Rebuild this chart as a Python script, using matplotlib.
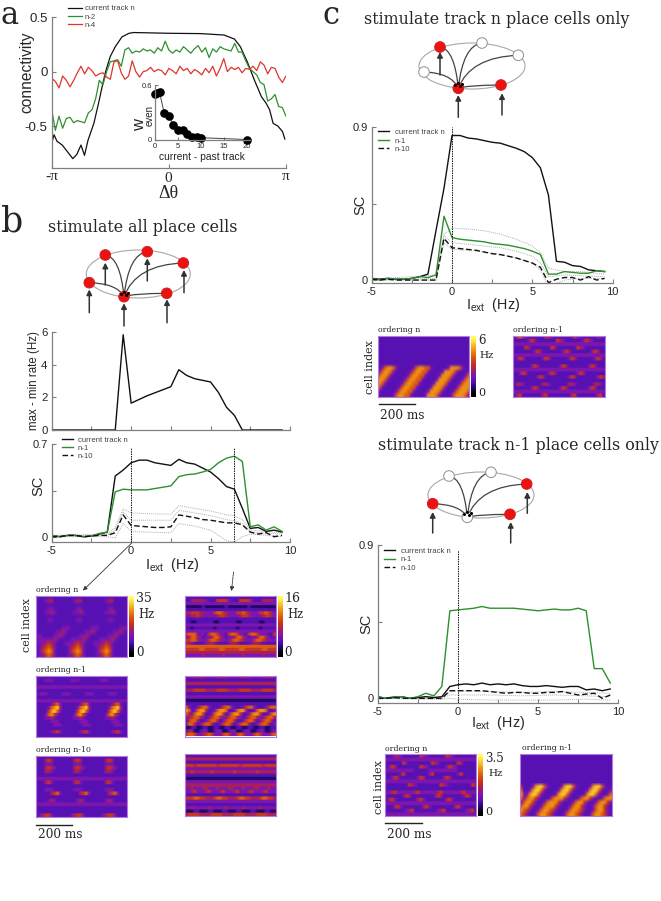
import numpy as np
import matplotlib
matplotlib.use('Agg')
import matplotlib.pyplot as plt
from matplotlib.colors import LinearSegmentedColormap
from matplotlib.patches import Ellipse, Circle, PathPatch
from matplotlib.path import Path

W, H = 661, 901
plt.rcParams['font.family'] = ['Liberation Sans', 'DejaVu Sans']
plt.rcParams['mathtext.fontset'] = 'custom'
plt.rcParams['mathtext.rm'] = 'Liberation Sans'
plt.rcParams['mathtext.it'] = 'Liberation Sans'

SERIF = 'DejaVu Serif'
GRAY = '#7f7f7f'
INK = '#262626'
GREEN = '#2f8f2f'
RED = '#e0352b'
DOT = '#b0b0b0'

# ---- panel a: values, theta in units of pi
a_black_x = [-1.0, -.98, -.955, -.91, -.87, -.82, -.785, -.75, -.72, -.69, -.64, -.6, -.57, -.54, -.5, -.457, -.4,
             -.34, -.3, 0, .27, .47, .56, .61, .67, .73, .79, .83, .86, .89, .93, .97, .99]
a_black = [-.66, -.58, -.64, -.675, -.73, -.80, -.76, -.675, -.77, -.63, -.475, -.29, -.14, 0, .14, .23, .32,
           .353, .36, .353, .35, .337, .30, .23, .09, -.077, -.23, -.29, -.35, -.475, -.5, -.55, -.62]
a_green = [-.35, -.54, -.41, -.52, -.43, -.42, -.47, -.45, -.46, -.47, -.38, -.35, -.25, -.08, -.12, 0, .09, .10,
           .11, .05, .20, .22, .17, .19, .18, .21, .19, .20, .17, .22, .19, .28, .20, .17, .20, .18, .23, .20, .17,
           .21, .24, .18, .22, .13, .21, .18, .23, .21, .20, .19, .26, .18, .18, .10, .03, 0, -.03, -.10, -.12,
           -.27, -.25, -.21, -.32, -.33, -.41]
a_red = [-.06, -.09, -.15, -.04, -.08, -.14, -.08, -.01, .05, -.02, .04, .01, -.04, -.02, -.01, -.05, -.07, .09,
         .10, -.01, -.07, -.04, .10, 0, -.05, 0, .01, .04, 0, .02, .01, -.03, .03, .01, -.02, .05, .01, .03, -.02,
         .02, .0, -.03, .03, -.01, .05, -.04, .03, .12, 0, .04, .02, .04, -.01, .03, .02, .05, .01, .09, .06, -.02,
         .04, .03, -.05, -.10, -.04]
inset_x = [0, .5, 1, 2, 3, 4, 5, 6, 7, 8, 9, 10, 20]
inset_y = [.50, .51, .52, .29, .26, .165, .11, .11, .07, .035, .035, .025, .005]

# ---- panel b
i_ext = [-5 + .5 * i for i in range(30)]
b_range_x = [-5, -1, -.5, 0, 1, 2.5, 3, 3.5, 4, 5, 5.5, 6, 6.5, 7, 9.5]
b_range = [0, 0, 5.85, 1.65, 2.1, 2.66, 3.7, 3.35, 3.15, 2.95, 2.3, 1.4, .9, 0, 0]
b_n = [.01, 0, .01, .01, 0, .005, .02, .035, .46, .505, .56, .58, .58, .56, .55, .54, .586, .56, .55, .52, .49, .44,
       .38, .36, .215, .063, .07, .04, .05, .035]
b_n1 = [.01, 0, .01, .01, 0, .005, .025, .035, .34, .36, .355, .355, .355, .365, .375, .385, .455, .47, .475, .49,
        .51, .56, .595, .61, .57, .075, .09, .05, .075, .04]
b_n10 = [0, 0, .01, .01, 0, .005, .01, .01, .03, .165, .085, .08, .075, .07, .07, .075, .165, .155, .145, .13, .125,
         .115, .105, .105, .09, .035, .02, .03, 0, .01]
b_dot_x = [-5, -1.5, -1, -.5, 0, 1, 2.5, 3, 4, 5, 6, 6.5, 7, 7.5, 9.5]
b_dot_hi = [.01, .02, .07, .21, .18, .175, .17, .235, .215, .195, .165, .16, .13, .05, .03]
b_dot_mid = [.005, .01, .05, .19, .125, .125, .125, .2, .18, .16, .13, .12, .10, .035, .02]
b_dot_lo = [0, 0, -.01, .10, .04, .035, .03, .10, .08, .05, -.03, -.04, 0, .02, .0]

# ---- panel c, stimulate track n
c1_n = [.01, .005, .01, .005, .005, .01, .02, .035, .29, .54, .85, .85, .835, .83, .82, .81, .805, .79, .775, .755,
        .72, .66, .50, .11, .105, .085, .08, .06, .055, .05]
c1_n1 = [.01, 0, .01, .005, .005, .01, .02, .015, .03, .375, .25, .24, .235, .23, .225, .215, .21, .205, .195, .185,
         .17, .15, .035, .035, .05, .045, .04, .04, .055, .05]
c1_n10 = [.005, 0, .005, 0, 0, 0, 0, 0, 0, .245, .19, .185, .18, .175, .165, .155, .15, .14, .13, .115, .10, .075,
          -.015, .005, .015, .015, 0, .02, 0, .01]
c1_dot_x = [-5, -1, -.5, 0, 1, 2, 3, 4, 5, 5.5, 6, 7, 8, 9.5]
c1_dot_hi = [.005, .03, .27, .305, .30, .29, .27, .24, .20, .16, .07, .05, .05, .035]
c1_dot_mid = [0, .01, .26, .22, .21, .20, .19, .17, .14, .10, .02, .03, .025, .02]
c1_dot_lo = [0, 0, .22, .18, .175, .165, .15, .13, .10, .06, -.04, 0, .01, .01]

# ---- panel c, stimulate track n-1
c2_n = [.01, 0, .005, .01, 0, .005, .01, .005, .01, .07, .08, .085, .08, .09, .08, .085, .08, .085, .075, .07, .07,
        .075, .07, .065, .07, .07, .05, .055, .045, .055]
c2_n1 = [.01, 0, .01, .01, 0, .01, .03, .015, .07, .515, .52, .525, .53, .54, .53, .53, .53, .53, .525, .52, .515,
         .52, .525, .52, .52, .53, .515, .175, .175, .09]
c2_n10 = [0, 0, .005, 0, 0, 0, 0, 0, 0, .045, .045, .045, .045, .045, .04, .035, .03, .035, .035, .03, .03, .035,
          .035, .04, .03, .02, .025, .03, 0, .02]
c2_dot_x = [-5, -1, -.5, 0, 2, 4, 6, 8, 9.5]
c2_dot_hi = [0, 0, .04, .045, .04, .035, .04, .035, .03]
c2_dot_mid = [0, 0, .02, .02, .02, .015, .02, .015, .01]
c2_dot_lo = [0, -.005, .0, -.005, -.01, -.01, -.01, -.005, -.01]

# ---- heatmaps, one digit per cell, 0 = low rate, 9 = high rate, first row on top
heat_b_n = ["22222222222222222222222222222222",
            "22234422222223442222222234422222",
            "22222222222222222222222222222222",
            "22223322222222332222222223322222",
            "22233432222223343222222233432222",
            "22222222222222222222222222222222",
            "22223322222222332222222223322222",
            "22222222222222222222222222222222",
            "22222222233322222223332222222333",
            "22222223343222222334322222233432",
            "33222233432222233432222223343222",
            "33333343222233334322223333432222",
            "23345432223334543222333454322222",
            "23456532222345653222234565322222",
            "23567632222356763222235676322222",
            "23356532222335653222233565322222"]
heat_b_n1 = ["22222222222222222222222222222222",
             "22233322222233322222223332222222",
             "22222222222222222222222222222222",
             "33333333333333333333333333333333",
             "22222222222222222222222222222222",
             "23332222233322222333222223332222",
             "22222222222222222222222222222222",
             "33333333333333333333333333333333",
             "22222356322222235632222222356322",
             "22223678422222367842222223678422",
             "22225786322222578632222225786322",
             "22236753222223675322222236753222",
             "22233432222223343222222233432222",
             "22222333222222233322222222333222",
             "22222233322222223332222222233322",
             "22222222222222222222222222222222",
             "22222345322222234532222222345322",
             "22222222222222222222222222222222"]
heat_b_n10 = ["22222222222222222222222222222222",
              "22245422222224542222222245422222",
              "22233322222223332222222233322222",
              "22245432222224543222222245432222",
              "22244322222224432222222244322222",
              "22222222222222222222222222222222",
              "33333333333333333333333333333333",
              "22245322222224532222222245322222",
              "22222222222222222222222222222222",
              "22233322222223332222222233322222",
              "22222456322222245632222224563222",
              "22222222222222222222222222222222",
              "22223432222222343222222234322222",
              "33333333333333333333333333333333",
              "22222222222222222222222222222222",
              "22222222222222222222222222222222",
              "23455322222234553222222345532222"]
heat_r_n = ["22222222222222222222222222222222",
            "22444443222555532225555322244443",
            "33333333333333333333333333333333",
            "11111121111111211111112111111111",
            "22222222222222222222222222222222",
            "44555443335665433355654333556543",
            "33445433333455433334554333345543",
            "22222222222222222222222222222222",
            "22112222221122222211222222112222",
            "33333333333333333333333333333333",
            "22122222221222222212222222122222",
            "33333333333333333333333333333333",
            "56663332566533256653325665333225",
            "34664323346643233466432334664323",
            "55664333566543335665433356654333",
            "44322223443222234432222344322222",
            "66666666666666666666666666666666",
            "55555665555566555556655555566555",
            "44444444444444444444444444444444",
            "33333343333334333333433333343333"]
heat_r_n1 = ["33344443333444433334444333344443",
             "22222222222222222222222222222222",
             "44444444444444444444444444444444",
             "22222222222222222222222222222222",
             "44455554444555544445555444455554",
             "22222222222222222222222222222222",
             "33333333333333333333333333333333",
             "11111111111111111111111111111111",
             "22222222222222222222222222222222",
             "63223566322235663222356632223566",
             "76236774223677622367742236776223",
             "64367752236775236775223677522367",
             "34566432356643356643235664335664",
             "25664223566423566422356642356642",
             "36642356642235664235664223566423",
             "11221122112211221122112211221122",
             "24411233112331123311233112331123",
             "56653345653335653356533356533356"]
heat_r_n10 = ["22222222222222222222222222222222",
              "44444444444444444444444444444444",
              "22222222222222222222222222222222",
              "55545555555455555554555555545555",
              "33333333333333333333333333333333",
              "44544444454444444544444445444444",
              "22222222222222222222222222222222",
              "11111111111111111111111111111111",
              "33333333333333333333333333333333",
              "44444444444444444444444444444444",
              "33433344333433344333433344333433",
              "33453334533345333453334533345333",
              "22222222222222222222222222222222",
              "55566554445665544456655444566554",
              "33333333333333333333333333333333",
              "22222222222222222222222222222222",
              "33433333433333433333433333433333",
              "11122111221112211122111221112211",
              "45555444455554444555544445555444"]
heat_c_n = ["22222222222222222222222222222222"] * 8 + [
            "23677632222236776632222237776322",
            "36776322222367766322223777632223",
            "67763222223677663222237776322236",
            "77632222236776632222377763222367",
            "76322222367766322223777632223677",
            "63222223677663222237776322236777",
            "32222236776632222377763222367776",
            "22222367766322223777632223677763"]
heat_c_n1 = ["25643222222543222222253322222432",
             "22222354222222254322222235432222",
             "33333333333333333333333333333333",
             "22225422222225422222225432222222",
             "22222223542222222354222222235422",
             "33333333333333333333333333333333",
             "23542222223542222223542222223542",
             "22222222222222222222222222222222",
             "22222235422222223542222222354222",
             "33333333333333333333333333333333",
             "22354222222235422222223542222222",
             "22222222354222222223542222222354",
             "22222222222222222222222222222222",
             "24432222224432222224432222224432",
             "22222235422222223542222222354222",
             "33333333333333333333333333333333",
             "24522222224522222222452222222452"]
heat_c2_n = ["22244322222253322222254322222222",
             "33333333333333333333333333333333",
             "22222253222222225432222225422222",
             "23542222222254322222235432222222",
             "33333333332222233333333332222222",
             "22222352222222235222222223522222",
             "22354222222354222222354222222222",
             "33333333333333333333333333333333",
             "22222222543222222225432222222254",
             "22222222222222222222222222222222",
             "33453333334533333345333333453333",
             "22222235422222222354222222235422",
             "24532222222453222222245322222222",
             "33333333333333333333333333333333",
             "22245322222224532222222245322222",
             "22222223452222222234522222223452",
             "33333333333333333333333333333333"]
heat_c2_r = ["22222222222222222222222222222222"] * 8 + [
             "42223788632222378863222237886322",
             "62237886322223788632222378863223",
             "73378863222237886322223788632236",
             "63677532223677753222367753223677",
             "36775322367775322236775322367753",
             "67753223677753222367753223677532",
             "76532236776532223677653223677532",
             "65322367765322236776532236776532"]

cb_levels = [0, 1, 2, 3, 4, 5, 6, 7, 8, 9]

cmap = LinearSegmentedColormap.from_list('pm3d', [
    (0, '#000000'), (.11, '#22086a'), (.22, '#5812b4'), (.33, '#7d16b0'), (.44, '#a8205c'),
    (.55, '#c8341c'), (.66, '#dc5a10'), (.77, '#ea8a14'), (.88, '#f6c22c'), (1, '#ffff50')])

fig = plt.figure(figsize=(W / 100, H / 100), dpi=100)


def px_axes(left, top, right, bottom):
    return fig.add_axes([left / W, 1 - bottom / H, (right - left) / W, (bottom - top) / H], facecolor='none')


ov = px_axes(0, 0, W, H)
ov.set_xlim(0, W)
ov.set_ylim(H, 0)
ov.axis('off')
ov.set_zorder(5)


def label(x, y, s, size=8, family=None, ha='center', va='center', rot=0, color=INK):
    kw = {'family': family} if family else {}
    ov.text(x, y, s, fontsize=size, ha=ha, va=va, rotation=rot, color=color, **kw)


def style(ax, xticks=None, xlabels=None, yticks=None, ylabels=None, size=8):
    for s in ['top', 'right']:
        ax.spines[s].set_visible(False)
    for s in ['left', 'bottom']:
        ax.spines[s].set_color(GRAY)
        ax.spines[s].set_linewidth(.9)
    ax.tick_params(direction='in', length=3, width=.8, color=GRAY, labelsize=size, labelcolor=INK, pad=3)
    ax.set_xticks(xticks)
    ax.set_xticklabels(xlabels)
    ax.set_yticks(yticks)
    ax.set_yticklabels(ylabels)


def sc_legend(ax, lx0, lx1, tx, y0, pitch, size=5.6):
    fpx = size * 100 / 72
    ax.legend(loc='upper left', bbox_to_anchor=(lx0, y0 - fpx * .55), bbox_transform=ov.transData, frameon=False,
              borderpad=0, borderaxespad=0, fontsize=size, handlelength=(lx1 - lx0) / fpx,
              handletextpad=(tx - lx1) / fpx, labelspacing=(pitch - fpx) / fpx, labelcolor='#444444')


def sc_axes(rect, ylim, ytop, xs, n, n1, n10, dot_x, dots, vlines, legend):
    ax = px_axes(*rect)
    for d in dots:
        ax.plot(dot_x, d, color=DOT, lw=.7, ls=(0, (1, 1)))
    ax.plot(xs, n, color='#111111', lw=1, label='current track n')
    ax.plot(xs, n1, color=GREEN, lw=1, label='n-1')
    ax.plot(xs, n10, color='#111111', lw=1, ls=(0, (4, 2)), label='n-10')
    for vx, vtop in vlines:
        ax.plot([vx, vx], [ylim[0], vtop], color='#111111', lw=.7, ls=(0, (1.5, 1)))
    ax.set_xlim(-5, 10)
    ax.set_ylim(*ylim)
    style(ax, [-5, -2.5, 0, 2.5, 5, 7.5, 10], ['-5', '', '0', '', '5', '', '10'],
          [0, ytop / 2, ytop], ['0', '', f'{ytop:g}'])
    sc_legend(ax, *legend)
    return ax


def heat(rect, rows, sharp=3):
    ax = px_axes(*rect)
    width = max(len(r) for r in rows)
    grid = np.array([[int(c) for c in r.ljust(width, '2')] for r in rows]) / 9
    # repeated rows keep the stripes thin under the smoothing
    ax.imshow(np.repeat(grid, sharp, axis=0), cmap=cmap, vmin=0, vmax=1, aspect='auto', interpolation='bilinear')
    ax.set_xticks([])
    ax.set_yticks([])
    for s in ax.spines.values():
        s.set_color('#b47ae0')
        s.set_linewidth(.8)
    return ax


def colorbar(rect):
    ax = px_axes(*rect)
    ax.imshow(np.array(cb_levels)[::-1, None] / 9, cmap=cmap, vmin=0, vmax=1, aspect='auto', interpolation='bilinear')
    ax.axis('off')


def network(center, size, nodes, fired, hub, arrows):
    ov.add_patch(Ellipse(center, size[0], size[1], fc='none', ec='#a8a8a8', lw=.8))
    hx, hy = nodes[hub]
    for i, (x, y) in enumerate(nodes):
        if i != hub:
            path = Path([(hx, hy), (hx + .2 * (x - hx), y + (hy - y) * .05), (x, y)],
                        [Path.MOVETO, Path.CURVE3, Path.CURVE3])
            ov.add_patch(PathPatch(path, fc='none', ec='#444444', lw=.9, zorder=2))
    for i, (x, y) in enumerate(nodes):
        on = i in fired
        ov.add_patch(Circle((x, y), 5.3, fc='#ee1111' if on else 'white', ec='#d02020' if on else '#909090',
                            lw=.7, zorder=3))
    ov.plot([hx - 3, hx, hx + 2, hx + 4], [hy - 3, hy - 5, hy - 2, hy - 4], 'o', ms=1.2, color='black', zorder=4)
    for x, y0, y1 in arrows:
        ov.annotate('', xy=(x, y1), xytext=(x, y0), zorder=4,
                    arrowprops=dict(arrowstyle='-|>,head_width=.18,head_length=.35', lw=1.1, color='#333333',
                                    shrinkA=0, shrinkB=0, mutation_scale=9))


# panel letters and titles
label(1, 24, 'a', 22, SERIF, ha='left', va='baseline')
label(1, 231, 'b', 25, SERIF, ha='left', va='baseline')
label(323, 24, 'c', 22, SERIF, ha='left', va='baseline')
label(143, 227, 'stimulate all place cells', 11.4, SERIF)
label(497, 19, 'stimulate track n place cells only', 11.4, SERIF)
label(518, 445, 'stimulate track n-1 place cells only', 11.4, SERIF)

# panel a
ax = px_axes(51.7, 17.3, 286, 168)
theta = np.linspace(-np.pi, np.pi, len(a_green))
ax.plot(np.array(a_black_x) * np.pi, a_black, color='#111111', lw=.9, label='current track n')
ax.plot(theta, a_green, color=GREEN, lw=.9, label='n-2')
ax.plot(theta, a_red, color=RED, lw=.9, label='n-4')
ax.set_xlim(-np.pi, np.pi)
ax.set_ylim(-.886, .5)
style(ax, [-np.pi, 0, np.pi], ['', '', ''], [-.5, 0, .5], ['-0.5', '0', '0.5'], size=9.5)
sc_legend(ax, 68, 82, 85, 9.3, 8.7)
label(51.5, 177, '-π', 11, 'Liberation Serif')
label(168.5, 178, '0', 11, 'Liberation Serif')
label(286, 177, 'π', 11, 'Liberation Serif')
label(168.5, 193, 'Δθ', 13, 'Liberation Serif')
label(27, 72, 'connectivity', 11.2, rot=90)

ins = px_axes(155, 85, 250, 140)
ins.plot(inset_x, inset_y, '-o', color='#444444', lw=.7, ms=5.2, mfc='black', mec='black', clip_on=False)
ins.set_xlim(0, 20.6)
ins.set_ylim(0, .6)
style(ins, [0, 5, 10, 15, 20], ['0', '5', '10', '15', '20'], [0, .6], ['0', '0.6'], size=5.5)
ins.tick_params(length=2, pad=2)
label(201.5, 156.5, 'current - past track', 7.4)
label(139.5, 125, 'w', 12, rot=90)
label(150, 115, 'even', 7, rot=90)

# panel b
network((138.3, 274), (104, 48), [(89.3, 282.7), (105.3, 255), (147.3, 251.7), (183.3, 263), (166.7, 293.3), (124, 296.7)],
        [0, 1, 2, 3, 4, 5], 5,
        [(89.3, 312.7, 289.5), (105.3, 285, 262.7), (147.3, 281, 258.3), (184, 292.7, 270),
         (167, 322.7, 299.3), (124, 326, 303.3)])
ax = px_axes(51.7, 332.3, 290, 430)
ax.plot(b_range_x, b_range, color='#111111', lw=1)
ax.set_xlim(-5, 10)
ax.set_ylim(0, 6)
style(ax, [-5, -2.5, 0, 2.5, 5, 7.5, 10], [], [0, 2, 4, 6], ['0', '2', '4', '6'], size=8.2)
ax.set_xticks([-5, -2.5, 0, 2.5, 5, 7.5, 10], [''] * 7)
label(34.5, 381, 'max - min rate (Hz)', 8.3, rot=90)

sc_axes((51.7, 444.3, 290, 542), (-.04, .7), .7, i_ext, b_n, b_n1, b_n10, b_dot_x, [b_dot_hi, b_dot_mid, b_dot_lo],
        [(0, .67), (6.5, .675)], (61.7, 72.7, 77.7, 440.7, 8.5))
label(38, 486, 'SC', 10.5, rot=90)
label(172, 565, r'$\mathregular{I_{ext}}$  (Hz)', 10.4)
ov.annotate('', xy=(83, 590.5), xytext=(131.7, 543), arrowprops=dict(arrowstyle='-|>,head_width=.15,head_length=.3',
            lw=.6, color='#333333', shrinkA=0, shrinkB=0, mutation_scale=8))
ov.annotate('', xy=(231.5, 591), xytext=(233.5, 572), arrowprops=dict(arrowstyle='-|>,head_width=.15,head_length=.3',
            lw=.6, ls=(0, (2, 1)), color='#333333', shrinkA=0, shrinkB=0, mutation_scale=8))

heat((36, 595.7, 127, 656.7), heat_b_n, 1)
heat((36, 675.7, 127, 737), heat_b_n1)
heat((36, 755.7, 127, 817), heat_b_n10)
heat((184.7, 595.7, 275.7, 656.7), heat_r_n)
heat((184.7, 675.7, 275.7, 736.5), heat_r_n1)
heat((184.7, 754, 275.7, 815.7), heat_r_n10)
colorbar((129.3, 595.7, 134.3, 656.7))
colorbar((277.7, 595.7, 282.7, 656.7))
label(136, 599, '35', 9, SERIF, ha='left')
label(146.5, 615, 'Hz', 8.3, SERIF)
label(136, 653, '0', 8.5, SERIF, ha='left')
label(284.5, 599, '16', 9, SERIF, ha='left')
label(295, 615, 'Hz', 8.3, SERIF)
label(284.5, 653, '0', 8.5, SERIF, ha='left')
label(36, 590, 'ordering n', 5.6, SERIF, ha='left')
label(36, 669.5, 'ordering n-1', 5.6, SERIF, ha='left')
label(36, 749.5, 'ordering n-10', 5.6, SERIF, ha='left')
label(27.3, 625, 'cell index', 8, SERIF, rot=90)
ov.plot([36, 72.3], [825, 825], color='#222222', lw=1)
label(60, 835, '200 ms', 8.7, SERIF)

# panel c, first block
network((472, 66), (106, 46), [(440, 47), (482, 43), (518.3, 55.3), (424, 72), (501, 85), (458.3, 88.3)],
        [0, 4, 5], 5, [(440, 75, 52), (458.3, 117.3, 95), (502, 115, 93.3)])
sc_axes((371.7, 127, 612.7, 282.7), (-.0155, .9), .9, i_ext, c1_n, c1_n1, c1_n10, c1_dot_x,
        [c1_dot_hi, c1_dot_mid, c1_dot_lo], [(0, .9)], (378, 389, 395, 133, 8.7))
label(360, 205, 'SC', 10.5, rot=90)
label(493, 305, r'$\mathregular{I_{ext}}$  (Hz)', 10.4)
heat((377.7, 336, 469, 397.3), heat_c_n, 1)
heat((513.3, 336, 605, 397.3), heat_c_n1)
colorbar((470.7, 336, 475.7, 397.3))
label(478, 340, '6', 8.5, SERIF, ha='left')
label(487, 355, 'Hz', 7.5, SERIF)
label(478, 393, '0', 8, SERIF, ha='left')
label(377.7, 329.5, 'ordering n', 5.6, SERIF, ha='left')
label(513.3, 330, 'ordering n-1', 5.6, SERIF, ha='left')
label(370, 367, 'cell index', 8, SERIF, rot=90)
ov.plot([379, 414.7], [404.3, 404.3], color='#222222', lw=1)
label(402.5, 415.7, '200 ms', 8.7, SERIF)

# panel c, second block
network((481, 495), (106, 46), [(449, 476), (491, 472.3), (526.7, 484), (432.7, 503.7), (510, 514.3), (467.3, 517.3)],
        [2, 3, 4], 5, [(432.7, 533, 512), (527.3, 513.3, 492), (510.7, 543, 522)])
sc_axes((377.7, 545.3, 618.3, 702.7), (-.0255, .9), .9, i_ext, c2_n, c2_n1, c2_n10, c2_dot_x,
        [c2_dot_hi, c2_dot_mid, c2_dot_lo], [(0, .87)], (384, 395, 400.7, 551.7, 8.7))
label(366, 624, 'SC', 10.5, rot=90)
label(498, 722.7, r'$\mathregular{I_{ext}}$  (Hz)', 10.4)
heat((384.7, 754, 475.7, 816), heat_c2_n)
heat((520.3, 754, 611.7, 816), heat_c2_r, 1)
colorbar((478, 754, 482.7, 816))
label(485, 758.7, '3.5', 8.5, SERIF, ha='left')
label(495.7, 773, 'Hz', 7.5, SERIF)
label(485, 811.7, '0', 8, SERIF, ha='left')
label(385, 749, 'ordering n', 5.6, SERIF, ha='left')
label(521.7, 748.3, 'ordering n-1', 5.6, SERIF, ha='left')
label(379.3, 786.7, 'cell index', 8, SERIF, rot=90)
ov.plot([385, 421.7], [823.3, 823.3], color='#222222', lw=1)
label(409, 834, '200 ms', 8.7, SERIF)

fig.savefig('out.png', dpi=100)
